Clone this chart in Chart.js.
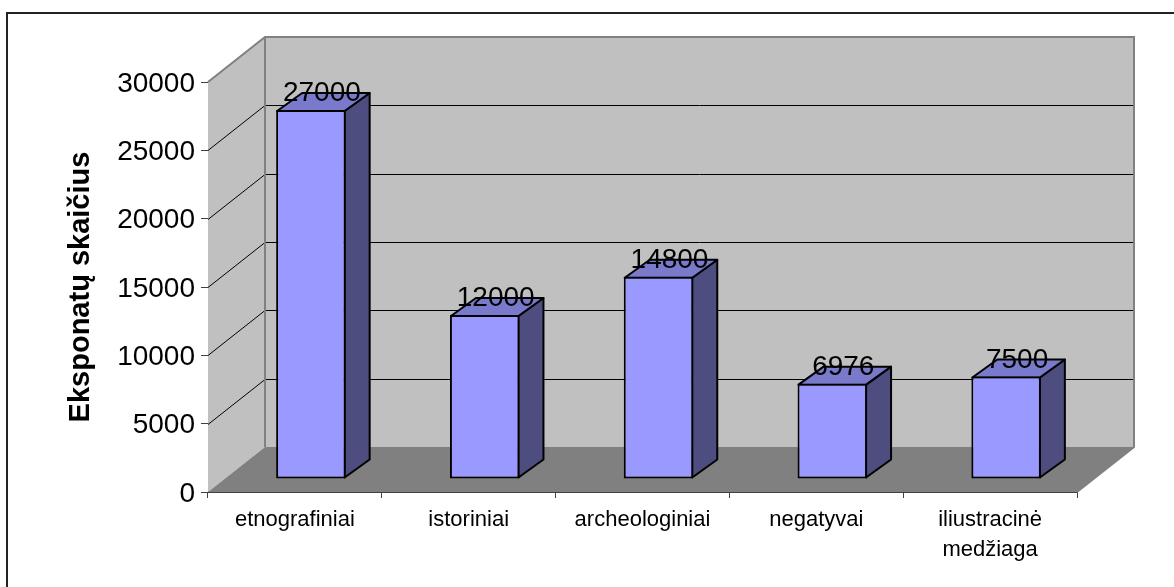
<!DOCTYPE html>
<html><head><meta charset="utf-8">
<style>html,body{margin:0;padding:0;background:#fff;overflow:hidden}canvas{display:block}</style>
<script src="https://cdn.jsdelivr.net/npm/chart.js@4/dist/chart.umd.min.js"></script>
</head><body>
<div style="position:relative;width:1174px;height:587px"><canvas id="c"></canvas></div>
<script>
const categories = ["etnografiniai","istoriniai","archeologiniai","negatyvai",["iliustracinė","medžiaga"]];
const values = [27000,12000,14800,6976,7500];
const yTicks = [0,5000,10000,15000,20000,25000,30000];
const axisTitle = "Eksponatų skaičius";

const FONT = '"Liberation Sans", Arial, sans-serif';
const WALL = {dx:57, dy:-45};      // depth of the 3D box
const BAR_SHIFT = {dx:16, dy:-13}; // bars stand mid-way on the floor
const BAR_DEPTH = {dx:25, dy:-18};

function poly(ctx, pts, fill, stroke, lw){
  ctx.beginPath();
  pts.forEach((p,i)=> i?ctx.lineTo(p[0],p[1]):ctx.moveTo(p[0],p[1]));
  ctx.closePath();
  if(fill){ctx.fillStyle=fill;ctx.fill();}
  if(stroke){ctx.strokeStyle=stroke;ctx.lineWidth=lw;ctx.lineJoin='round';ctx.stroke();}
}

const box3d = {
  id:'box3d',
  beforeDatasetsDraw(chart){
    const {ctx,chartArea:a,scales:{y}} = chart;
    const d=WALL;
    ctx.save();
    // frame: only the top and left edges fall inside the picture
    ctx.strokeStyle='#222';ctx.lineWidth=2;
    ctx.beginPath();ctx.moveTo(7,587);ctx.lineTo(7,13);ctx.lineTo(1174,13);ctx.stroke();
    // walls
    poly(ctx,[[a.left,a.top],[a.left+d.dx,a.top+d.dy],[a.left+d.dx,a.bottom+d.dy],[a.left,a.bottom]],'#C0C0C0');
    poly(ctx,[[a.left+d.dx,a.top+d.dy],[a.right+d.dx,a.top+d.dy],[a.right+d.dx,a.bottom+d.dy],[a.left+d.dx,a.bottom+d.dy]],'#C0C0C0');
    poly(ctx,[[a.left,a.bottom],[a.left+d.dx,a.bottom+d.dy],[a.right+d.dx,a.bottom+d.dy],[a.right,a.bottom]],'#808080');
    // gridlines
    ctx.strokeStyle='#000';ctx.lineWidth=1;
    yTicks.forEach(t=>{
      if(t===0||t===yTicks[yTicks.length-1])return;
      const py=Math.round(y.getPixelForValue(t))+0.5;
      ctx.beginPath();
      ctx.moveTo(a.left,py);ctx.lineTo(a.left+d.dx,py+d.dy);ctx.lineTo(a.right+d.dx,py+d.dy);
      ctx.stroke();
    });
    // wall edges
    ctx.strokeStyle='#808080';ctx.lineWidth=2;ctx.beginPath();
    ctx.moveTo(a.left,a.top);ctx.lineTo(a.left+d.dx,a.top+d.dy);ctx.lineTo(a.right+d.dx,a.top+d.dy);
    ctx.lineTo(a.right+d.dx,a.bottom+d.dy);ctx.lineTo(a.right,a.bottom);
    ctx.moveTo(a.left+d.dx,a.top+d.dy);ctx.lineTo(a.left+d.dx,a.bottom+d.dy);
    ctx.stroke();
    // bar side and top faces
    const m=chart.getDatasetMeta(0), s=BAR_SHIFT, b=BAR_DEPTH;
    m.data.forEach(el=>{
      const l=el.x-el.width/2+s.dx+1, r=el.x+el.width/2+s.dx-1, t=el.y+s.dy+1, bt=el.base+s.dy-1;
      poly(ctx,[[r,t],[r+b.dx,t+b.dy],[r+b.dx,bt+b.dy],[r,bt]],'#4D4D7F','#000',2);
      poly(ctx,[[l,t],[l+b.dx,t+b.dy],[r+b.dx,t+b.dy],[r,t]],'#7A7ACC','#000',2);
    });
    ctx.restore();
    ctx.save();
    ctx.translate(s.dx,s.dy);
  },
  afterDatasetsDraw(chart){
    const {ctx}=chart;
    ctx.restore();
    // value labels
    ctx.save();
    ctx.font='28px '+FONT;ctx.fillStyle='#000';ctx.textAlign='center';ctx.textBaseline='alphabetic';
    const m=chart.getDatasetMeta(0);
    m.data.forEach((el,i)=>{
      ctx.fillText(String(values[i]),el.x+BAR_SHIFT.dx+11,el.y+BAR_SHIFT.dy-9);
    });
    ctx.restore();
  }
};

new Chart(document.getElementById('c'),{
  type:'bar',
  data:{labels:categories,datasets:[{data:values,backgroundColor:'#9999FF',borderColor:'#000',borderWidth:2,borderSkipped:false,categoryPercentage:1,barPercentage:0.4}]},
  plugins:[box3d],
  options:{
    responsive:true,maintainAspectRatio:false,animation:false,
    layout:{padding:{left:0,top:82,right:97,bottom:0}},
    plugins:{legend:{display:false},tooltip:{enabled:false}},
    scales:{
      x:{
        afterFit(s){s.height=95;},
        border:{color:'#404040',width:1},
        grid:{drawOnChartArea:false,color:'#404040',tickLength:6,offset:true},
        ticks:{color:'#000',font:{family:FONT,size:22,lineHeight:1.36},padding:7,maxRotation:0,autoSkip:false}
      },
      y:{
        min:0,max:30000,
        afterFit(s){s.width=208;},
        afterBuildTicks(s){s.ticks=yTicks.map(v=>({value:v}));},
        border:{color:'#404040',width:1},
        grid:{drawOnChartArea:false,color:'#404040',tickLength:7},
        ticks:{color:'#000',font:{family:FONT,size:28},padding:6,labelOffset:2,callback:v=>String(v)},
        title:{display:true,text:axisTitle,color:'#000',font:{family:FONT,size:29,weight:'bold'},padding:{top:64,bottom:0}}
      }
    }
  }
});
</script>
</body></html>
